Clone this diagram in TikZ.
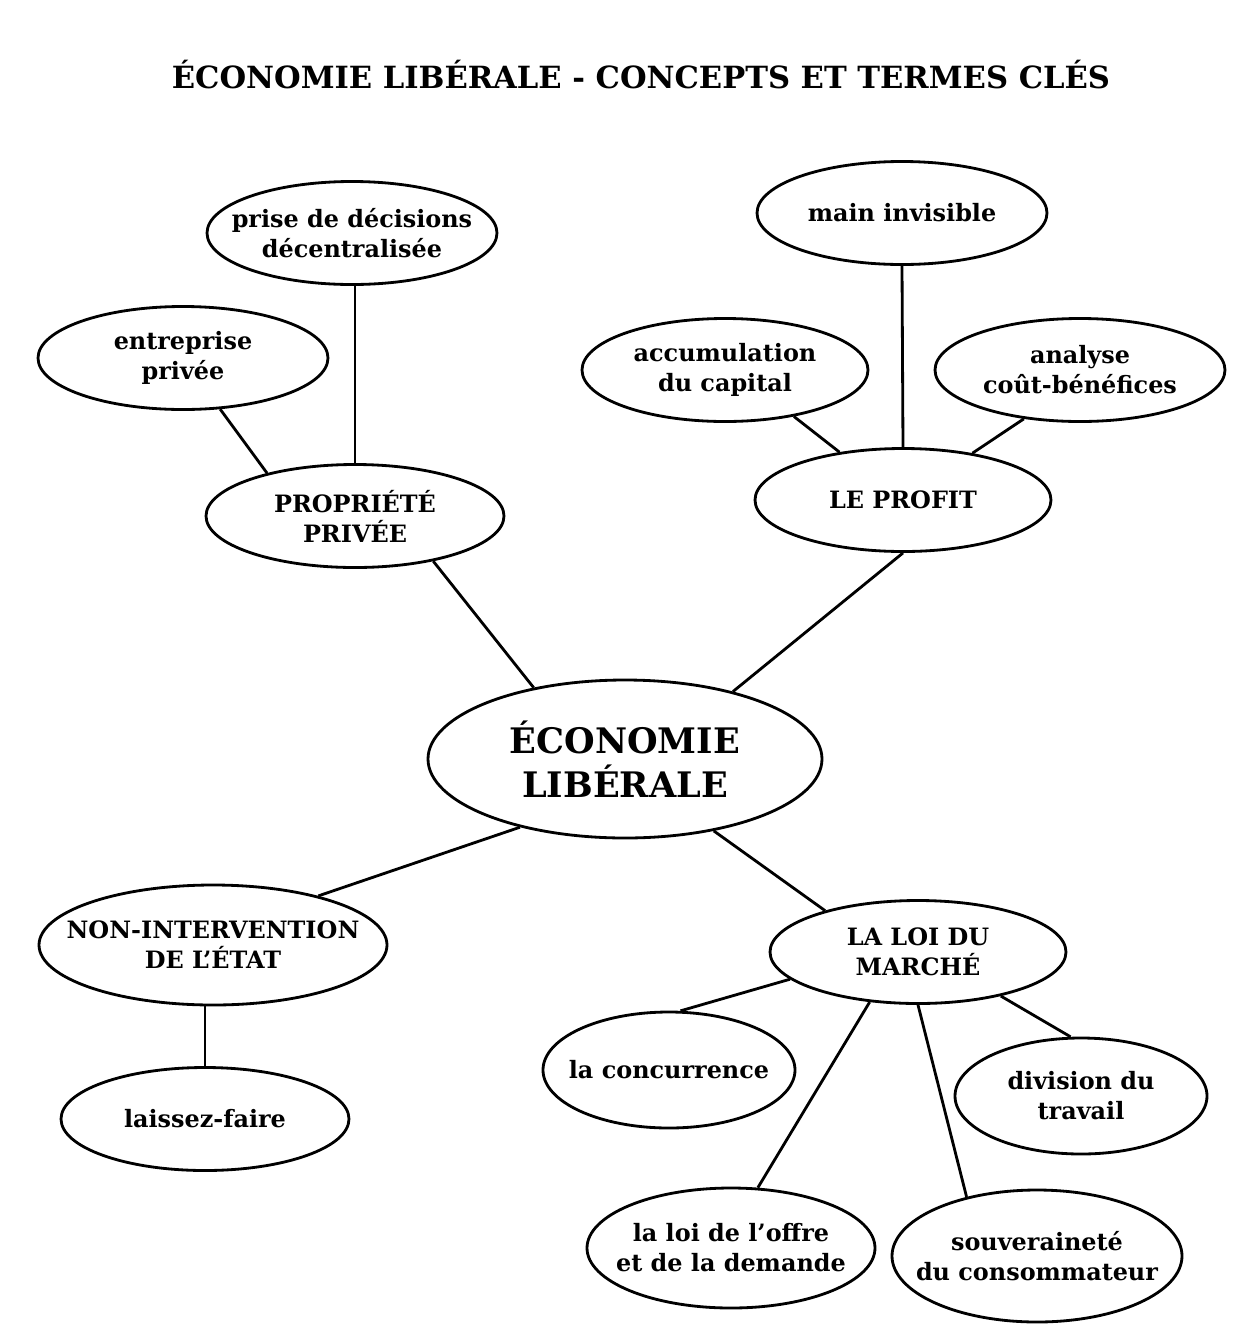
\documentclass[tikz,border=0pt]{standalone}
\usepackage{fontspec}
\setmainfont{DejaVu Serif}
\usetikzlibrary{shapes.geometric}
\tikzset{
    carte/.style={
        concept/.style={ellipse, draw, inner xsep=-6mm, inner ysep=-2mm, align=center,
            minimum width=29mm, minimum height=10.3mm,
            font=\bfseries\fontsize{6.8}{8.5}\selectfont},
        every path/.style={line width=0.8pt},
    },
}

\begin{document}
\begin{tikzpicture}[carte, x=0.1mm, y=-0.1mm]
            \useasboundingbox (0,0) rectangle (1238,1335);
            \node[font=\bfseries\fontsize{8.7}{10}\selectfont] (titre) at (641,75) {ÉCONOMIE LIBÉRALE - CONCEPTS ET TERMES CLÉS};

            \node[concept] (pdd) at (352,233) {prise de décisions\\décentralisée};
            \node[concept] (ent) at (183,358) {entreprise\\privée};
            \node[concept, minimum width=29.8mm] (prop) at (355,516) {PROPRIÉTÉ\\PRIVÉE};
            \node[concept] (main) at (902,213) {main invisible};
            \node[concept, minimum width=28.6mm] (acc) at (725,370) {accumulation\\du capital};
            \node[concept] (ana) at (1080,370) {analyse\\coût-bénéfices};
            \node[concept, minimum width=29.6mm] (profit) at (903,500) {LE PROFIT};
            \node[concept, minimum width=39.4mm, minimum height=15.8mm,
                  font=\bfseries\fontsize{10}{12.5}\selectfont] (eco) at (625,759) {ÉCONOMIE\\LIBÉRALE};
            \node[concept, minimum width=34.8mm, minimum height=12mm] (nie) at (213,945) {NON-INTERVENTION\\DE L'ÉTAT};
            \node[concept, minimum width=28.8mm] (lf) at (205,1119) {laissez-faire};
            \node[concept, minimum width=29.6mm] (loi) at (918,952) {LA LOI DU\\MARCHÉ};
            \node[concept, minimum width=25.2mm, minimum height=11.6mm] (conc) at (669,1070) {la concurrence};
            \node[concept, minimum width=25.2mm, minimum height=11.6mm] (div) at (1081,1096) {division du\\travail};
            \node[concept, minimum width=28.8mm, minimum height=12mm] (offre) at (731,1248) {la loi de l'offre\\et de la demande};
            \node[concept, minimum height=13.2mm] (souv) at (1037,1256) {souveraineté\\du consommateur};

            \draw (pdd.south -| prop.north) -- (prop.north);
            \draw (ent.-54) -- (prop.154);
            \draw (prop.-30) -- (eco.142);
            \draw (main.south) -- (profit.north);
            \draw (acc.-34) -- (profit.143);
            \draw (ana.-139) -- (profit.34);
            \draw (profit.south) -- (eco.32);
            \draw (eco.-147) -- (nie.25);
            \draw (lf.north) -- (lf.north |- nie.south);
            \draw (eco.-39) -- (loi.156);
            \draw (loi.-168) -- (conc.79);
            \draw (loi.-134) -- (offre.66);
            \draw (loi.south) -- (souv.140);
            \draw (loi.-28) -- (div.100);
        \end{tikzpicture}
\end{document}
